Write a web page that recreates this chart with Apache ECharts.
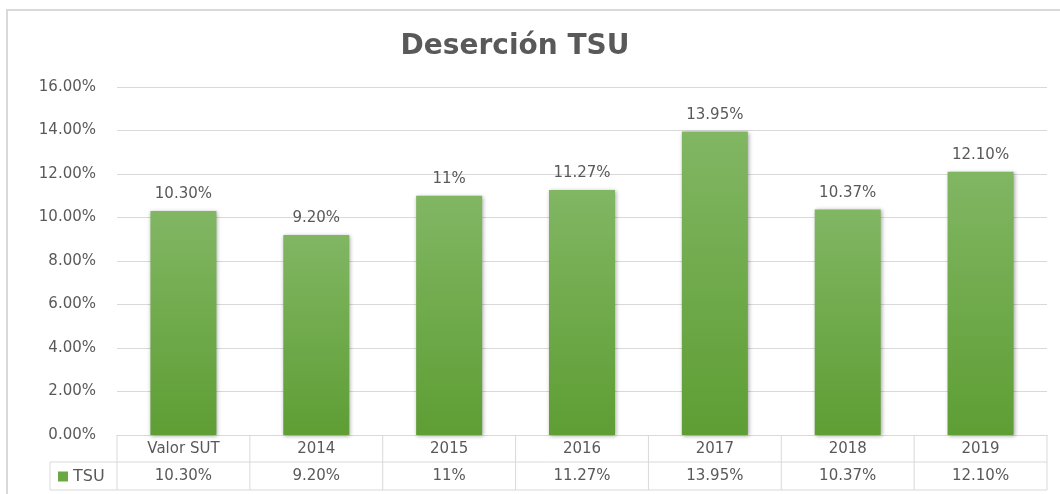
<!DOCTYPE html>
<html>
<head>
<meta charset="utf-8">
<script src="https://cdn.jsdelivr.net/npm/echarts@6/dist/echarts.min.js"></script>
<style>
  html, body { margin: 0; padding: 0; background: #fff; }
  #chart { width: 1060px; height: 494px; }
</style>
</head>
<body>
<div id="chart"></div>
<script>
  // datos
  const categories = ['Valor SUT', '2014', '2015', '2016', '2017', '2018', '2019']
  const tsuValues = [10.30, 9.20, 11, 11.27, 13.95, 10.37, 12.10]
  const tsuLabels = ['10.30%', '9.20%', '11%', '11.27%', '13.95%', '10.37%', '12.10%']
  const yTicks = [0, 2, 4, 6, 8, 10, 12, 14, 16]

  const FONT = '"DejaVu Sans", "Open Sans", sans-serif'
  const TEXT = '#595959'
  const LINE = '#d9d9d9'

  const chart = echarts.init(document.getElementById('chart'))

  const option = {
    animation: false,
    title: {
      text: 'Deserción TSU',
      left: 510,
      textAlign: 'center',
      top: 28,
      textStyle: { fontFamily: FONT, fontSize: 28, fontWeight: 'bold', color: TEXT }
    },
    grid: { left: 117, right: 13, top: 87, bottom: 59 },
    xAxis: {
      type: 'category',
      data: categories,
      axisTick: { show: false },
      axisLine: { lineStyle: { color: LINE } },
      axisLabel: {
        fontFamily: FONT, fontSize: 15, color: TEXT, margin: 7
      }
    },
    yAxis: {
      type: 'value',
      min: yTicks[0],
      max: yTicks[yTicks.length - 1],
      interval: 2,
      axisLine: { show: false },
      axisTick: { show: false },
      splitLine: { lineStyle: { color: LINE } },
      axisLabel: {
        fontFamily: FONT, fontSize: 15, color: TEXT, margin: 21,
        formatter: (v) => v.toFixed(2) + '%'
      }
    },
    series: [{
      name: 'TSU',
      type: 'bar',
      data: tsuValues,
      barWidth: 66,
      itemStyle: {
        color: new echarts.graphic.LinearGradient(0, 0, 0, 1, [
          { offset: 0, color: '#81b663' },
          { offset: 1, color: '#5e9e34' }
        ]),
        shadowColor: 'rgba(0,0,0,0.35)',
        shadowBlur: 4,
        shadowOffsetX: 1,
        shadowOffsetY: 1
      },
      label: {
        show: true,
        position: 'top',
        distance: 9,
        fontFamily: FONT, fontSize: 15, color: TEXT,
        formatter: (p) => tsuLabels[p.dataIndex]
      }
    }]
  }
  chart.setOption(option)

  // tabla de datos debajo del eje, calculada desde la escala
  function drawTable() {
    const y0 = chart.convertToPixel({ yAxisIndex: 0 }, 0)
    const row = 27
    const y1 = y0 + row
    const y2 = y1 + row + 1
    const step = chart.convertToPixel({ xAxisIndex: 0 }, 1) - chart.convertToPixel({ xAxisIndex: 0 }, 0)
    const first = chart.convertToPixel({ xAxisIndex: 0 }, 0) - step / 2
    const last = first + step * categories.length
    const legendLeft = 50
    const els = []
    const line = (x1, ya, x2, yb) => els.push({
      type: 'line', shape: { x1, y1: ya, x2, y2: yb },
      style: { stroke: LINE, lineWidth: 1 }
    })
    line(legendLeft, y1, last, y1)
    line(legendLeft, y2, last, y2)
    line(legendLeft, y1, legendLeft, y2)
    for (let i = 0; i <= categories.length; i++) {
      const x = first + step * i
      line(x, y0, x, y2)
    }
    categories.forEach((c, i) => {
      els.push({
        type: 'text',
        x: first + step * (i + 0.5), y: y1 + row / 2 + 1,
        style: {
          text: tsuLabels[i], fill: TEXT, font: '15px ' + FONT,
          textAlign: 'center', textVerticalAlign: 'middle'
        }
      })
    })
    els.push({
      type: 'rect', shape: { x: legendLeft + 8, y: y1 + row / 2 - 4, width: 10, height: 10 },
      style: { fill: '#6aa842' }
    })
    els.push({
      type: 'text', x: legendLeft + 23, y: y1 + row / 2 + 1,
      style: { text: 'TSU', fill: TEXT, font: '16px ' + FONT, textAlign: 'left', textVerticalAlign: 'middle' }
    })
    // borde exterior del gráfico
    els.push({
      type: 'rect', shape: { x: 7, y: 10, width: 1070, height: 500 },
      style: { fill: 'none', stroke: LINE, lineWidth: 2 }, z: -1
    })
    chart.setOption({ graphic: { elements: els } })
  }
  drawTable()
</script>
</body>
</html>
